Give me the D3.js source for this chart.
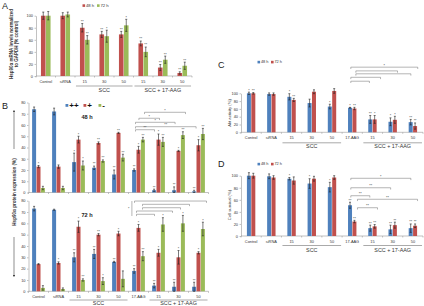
<!DOCTYPE html>
<html>
<head>
<meta charset="utf-8">
<script src="https://cdn.jsdelivr.net/npm/d3@7"></script>
<style>
  body { margin: 0; background: #fff; }
  svg { display: block; }
  text { font-family: "Liberation Sans", Arial, sans-serif; }
</style>
</head>
<body>
<script>
// ---- data ----
const catsA = ["Control", "siRNA", "15", "30", "50", "15", "30", "50"];
const a48 = [100, 100, 80, 69, 69, 54, 14, 5];
const a48Err = [6, 5, 7, 5, 5, 4, 5, 2];
const a48Sig = ["", "", "**", "**", "**", "**", "**", "**"];
const a72 = [100, 102, 60, 66, 84, 40, 27, 17];
const a72Err = [7, 4, 7, 10, 10, 8, 6, 6];
const a72Sig = ["", "", "**", "*", "*", "**", "**", "**"];

const catsB = ["Control", "siRNA", "15", "30", "50", "17-AAG", "15", "30", "50"];
const b48Blue = [74, 72, 27, 22, 16, 20, 2, 2, 1];
const b48BlueErr = [2, 3, 8, 1.5, 4, 1, 1, 3, 1];
const b48BlueSig = ["", "", "*", "**", "**", "**", "**", "**", "**"];
const b48Red = [23, 23, 47, 44, 53, 38, 47, 37, 42];
const b48RedErr = [1, 1.5, 3, 1, 0.5, 3, 5, 0.5, 5];
const b48RedSig = ["*", "", "*", "**", "**", "*", "*", "*", "*"];
const b48Green = [4, 4, 24, 28, 31, 47, 45, 51, 52];
const b48GreenErr = [1.5, 1.5, 4, 1, 3, 2, 4, 3, 5];
const b48GreenSig = ["", "", "*", "**", "**", "**", "**", "**", "**"];

const b72Blue = [73, 72, 30, 33, 26, 18, 5, 4, 4];
const b72BlueErr = [2, 0.5, 4, 4, 0.5, 2, 2, 4, 4];
const b72BlueSig = ["", "", "**", "**", "**", "**", "**", "**", "**"];
const b72Red = [24, 25, 57, 50, 51, 56, 34, 30, 34];
const b72RedErr = [0.5, 1, 5, 1, 2, 3, 3, 6, 1];
const b72RedSig = ["", "*", "*", "**", "*", "*", "*", "*", "*"];
const b72Green = [3, 2, 10, 9, 11, 31, 59, 60, 55];
const b72GreenErr = [2, 1, 1, 3, 7, 4, 6, 7, 6];
const b72GreenSig = ["", "", "**", "*", "", "**", "*", "*", "*"];

const cBlue = [100, 98, 91, 75, 66, 63, 33, 27, 26];
const cBlueErr = [3, 3, 8, 10, 6, 1, 10, 10, 7];
const cBlueSig = ["*", "", "*", "", "*", "*", "**", "*", "**"];
const cRed = [100, 98, 83, 104, 106, 61, 33, 32, 16];
const cRedErr = [2, 3, 4, 5, 6, 3, 10, 9, 8];
const cRedSig = ["**", "", "**", "", "", "**", "*", "*", "**"];

const dBlue = [100, 99, 95, 87, 81, 51, 13, 11, 13];
const dBlueErr = [5, 4, 2, 8, 8, 5, 5, 7, 7];
const dBlueSig = ["", "", "*", "*", "*", "**", "**", "**", "**"];
const dRed = [100, 97, 92, 95, 97, 24, 16, 18, 17];
const dRedErr = [4, 3, 6, 4, 3, 2, 3, 5, 3];
const dRedSig = ["", "", "", "", "", "**", "**", "**", "**"];

// significance brackets: [from index, to index, value level, label]
const bracketsB48 = [[5.3, 7.35, 71.3, "*"], [5.02, 6.05, 66, "*"], [4.85, 6.83, 62.4, "*"], [4.85, 7.88, 58.5, "**"], [4.85, 5.8, 55.8, "**"]];
const bracketsB72 = [[4.8, 8.4, 79.7, ""], [5.2, 7.55, 76.8, ""], [5.2, 7.1, 73.8, ""], [4.9, 6.7, 70.9, ""], [4.9, 5.8, 68, ""]];
const bracketsC = [[4.93, 8.24, 167, "*"], [5.18, 7.24, 157.5, ""], [5.18, 7.9, 150, ""], [4.93, 6.4, 141, ""], [4.93, 5.85, 131, ""]];
const bracketsD = [[4.93, 7.9, 95.7, "*"], [4.93, 6.9, 80, "**"], [4.93, 5.87, 66.8, "**"], [5.26, 8.23, 60.9, "**"], [5.26, 6.25, 46.9, "**"]];

const groupsA = [[2, 4, "SCC"], [5, 7, "SCC + 17-AAG"]];
const groupsB = [[2, 4, "SCC"], [6, 8, "SCC + 17-AAG"]];

const RED = "#c0504d", GREEN = "#9bbb59", BLUE = "#4f81bd";

const svg = d3.select("body").append("svg").attr("width", 424).attr("height", 306);

function panel(cfg) {
  const g = svg.append("g");
  const n = cfg.cats.length;
  const x = d3.scaleBand().domain(d3.range(n)).range([cfg.left, cfg.right]);
  const y = d3.scaleLinear().domain([0, cfg.max]).range([cfg.y0, cfg.yTop]);
  const pos = i => x(0) + x.bandwidth() / 2 + i * x.step();

  // y axis
  const ya = g.append("g")
    .attr("transform", `translate(${cfg.left},0)`)
    .call(d3.axisLeft(y).tickValues(cfg.ticks).tickSize(1.5).tickSizeOuter(0).tickPadding(1.5));
  ya.attr("font-family", "Liberation Sans, Arial, sans-serif");
  ya.select(".domain").attr("stroke", "#999").attr("stroke-width", 0.6);
  ya.selectAll(".tick line").attr("stroke", "#999").attr("stroke-width", 0.6);
  ya.selectAll(".tick text").attr("font-size", 3.9).attr("fill", "#333");

  // x axis
  g.append("line")
    .attr("x1", cfg.left).attr("x2", cfg.right)
    .attr("y1", cfg.y0).attr("y2", cfg.y0)
    .attr("stroke", "#999").attr("stroke-width", 0.6);
  g.selectAll(".xt").data(d3.range(n + 1)).join("line")
    .attr("x1", i => cfg.left + i * x.step()).attr("x2", i => cfg.left + i * x.step())
    .attr("y1", cfg.y0).attr("y2", cfg.y0 + 1.5)
    .attr("stroke", "#999").attr("stroke-width", 0.6);

  if (cfg.showLabels) {
    g.selectAll(".xl").data(d3.range(n)).join("text")
      .attr("x", i => pos(i)).attr("y", cfg.y0 + cfg.labelOff)
      .attr("text-anchor", "middle").attr("font-size", 3.9).attr("fill", "#333")
      .text(i => cfg.cats[i]);
    cfg.groups.forEach(([a, b, lab]) => {
      g.append("line")
        .attr("x1", pos(a) - 0.45 * x.step()).attr("x2", pos(b) + 0.45 * x.step())
        .attr("y1", cfg.y0 + cfg.lineOff).attr("y2", cfg.y0 + cfg.lineOff)
        .attr("stroke", "#555").attr("stroke-width", 0.5);
      g.append("text")
        .attr("x", (pos(a) + pos(b)) / 2).attr("y", cfg.y0 + cfg.groupOff)
        .attr("text-anchor", "middle").attr("font-size", 5.4).attr("fill", "#333")
        .text(lab);
    });
  }

  // bars
  const m = cfg.series.length;
  cfg.series.forEach((s, k) => {
    const off = (k - (m - 1) / 2) * cfg.barW;
    const idx = d3.range(n);
    g.selectAll(null).data(idx).join("rect")
      .attr("x", i => pos(i) + off - cfg.barW / 2 + 0.2)
      .attr("width", cfg.barW - 0.4)
      .attr("y", i => y(s.values[i]))
      .attr("height", i => cfg.y0 - y(s.values[i]))
      .attr("fill", s.color);
    // error bars
    idx.forEach(i => {
      const cx = pos(i) + off;
      const lo = y(Math.max(0, s.values[i] - s.err[i]));
      const hi = y(s.values[i] + s.err[i]);
      g.append("path")
        .attr("d", `M${cx},${lo}V${hi}M${cx - 1},${hi}H${cx + 1}M${cx - 1},${lo}H${cx + 1}`)
        .attr("stroke", "#222").attr("stroke-width", 0.6).attr("fill", "none");
      if (s.sig[i]) {
        g.append("text")
          .attr("x", cx).attr("y", hi - 0.6)
          .attr("text-anchor", "middle").attr("font-size", 3.7).attr("fill", "#333")
          .text(s.sig[i]);
      }
    });
  });

  // brackets
  (cfg.brackets || []).forEach(([a, b, v, lab]) => {
    const x1 = pos(a), x2 = pos(b), yy = y(v);
    g.append("path")
      .attr("d", `M${x1},${yy + 1.8}V${yy}H${x2}V${yy + 1.8}`)
      .attr("stroke", "#777").attr("stroke-width", 0.55).attr("fill", "none");
    if (lab) {
      g.append("text")
        .attr("x", (x1 + x2) / 2).attr("y", yy - 0.6)
        .attr("text-anchor", "middle").attr("font-size", 3.7).attr("fill", "#333")
        .text(lab);
    }
  });
  return { g, x, y, pos };
}

function legend(items, x0, yy, gap, fs) {
  let cx = x0;
  items.forEach(([color, label]) => {
    svg.append("rect").attr("x", cx).attr("y", yy - 2.2).attr("width", 2.6).attr("height", 2.6).attr("fill", color);
    svg.append("text").attr("x", cx + 3.4).attr("y", yy + 0.4).attr("font-size", fs).attr("fill", "#333").text(label);
    cx += gap;
  });
}

function letter(t, xx, yy) {
  svg.append("text").attr("x", xx).attr("y", yy).attr("font-size", 9).attr("fill", "#222").text(t);
}

// ---- Panel A ----
panel({
  cats: catsA, left: 36, right: 192, y0: 76, yTop: 15.7, max: 100,
  ticks: [0, 20, 40, 60, 80, 100], barW: 5, showLabels: true,
  labelOff: 6.5, lineOff: 10, groupOff: 16, groups: groupsA,
  series: [
    { values: a48, err: a48Err, sig: a48Sig, color: RED },
    { values: a72, err: a72Err, sig: a72Sig, color: GREEN }
  ]
});
letter("A", 2, 9);
legend([[RED, "48 h"], [GREEN, "72 h"]], 82.5, 6.5, 14.5, 4.3);
svg.append("text")
  .attr("transform", "translate(13,44) rotate(-90)")
  .attr("text-anchor", "middle").attr("font-size", 4.5).attr("font-weight", "bold").attr("fill", "#333")
  .selectAll("tspan").data(["Hsp90α mRNA levels normalized", "to GAPDH (% control)"]).join("tspan")
  .attr("x", 0).attr("dy", (d, i) => i === 0 ? 0 : 5.4).text(d => d);

// ---- Panel B ----
panel({
  cats: catsB, left: 28.5, right: 208.5, y0: 192.5, yTop: 102.5, max: 80,
  ticks: d3.range(0, 81, 10), barW: 4.4, showLabels: false,
  brackets: bracketsB48,
  series: [
    { values: b48Blue, err: b48BlueErr, sig: b48BlueSig, color: BLUE },
    { values: b48Red, err: b48RedErr, sig: b48RedSig, color: RED },
    { values: b48Green, err: b48GreenErr, sig: b48GreenSig, color: GREEN }
  ]
});
const pB72 = panel({
  cats: catsB, left: 28.5, right: 208.5, y0: 291.3, yTop: 200.7, max: 80,
  ticks: d3.range(0, 81, 10), barW: 4.4, showLabels: true,
  labelOff: 6.5, lineOff: 8.7, groupOff: 13.5, groups: groupsB,
  brackets: bracketsB72,
  series: [
    { values: b72Blue, err: b72BlueErr, sig: b72BlueSig, color: BLUE },
    { values: b72Red, err: b72RedErr, sig: b72RedSig, color: RED },
    { values: b72Green, err: b72GreenErr, sig: b72GreenSig, color: GREEN }
  ]
});
// brace for the 72 h brackets
const braceX = pB72.pos(4.67);
pB72.g.append("line").attr("x1", braceX).attr("x2", braceX)
  .attr("y1", pB72.y(79.7)).attr("y2", pB72.y(66.5))
  .attr("stroke", "#777").attr("stroke-width", 0.55);
pB72.g.append("text").attr("x", braceX - 2.5).attr("y", pB72.y(72))
  .attr("text-anchor", "end").attr("font-size", 3.7).attr("fill", "#333").text("*");

letter("B", 2, 109);
// B legend
[[BLUE, "++", 65.5], [RED, "+", 83.5], [GREEN, "-", 98.5]].forEach(([c, t, xx]) => {
  svg.append("rect").attr("x", xx).attr("y", 104).attr("width", 2.8).attr("height", 2.8).attr("fill", c);
  svg.append("text").attr("x", xx + 3.8).attr("y", 108.2).attr("font-size", 8).attr("font-weight", "bold").attr("fill", "#111").text(t);
});
svg.append("text").attr("x", 87).attr("y", 119).attr("text-anchor", "middle").attr("font-size", 5.6).attr("font-weight", "bold").attr("fill", "#222").text("48 h");
svg.append("text").attr("x", 87).attr("y", 217).attr("text-anchor", "middle").attr("font-size", 5.6).attr("font-weight", "bold").attr("fill", "#222").text("72 h");
svg.append("text")
  .attr("transform", "translate(15.5,192) rotate(-90)")
  .attr("text-anchor", "middle").attr("font-size", 4.6).attr("font-weight", "bold").attr("fill", "#333")
  .text("Hsp90α protein expression (%)");
svg.append("defs").append("marker").attr("id", "ah").attr("viewBox", "0 0 6 6")
  .attr("refX", 3).attr("refY", 3).attr("markerWidth", 4).attr("markerHeight", 4).attr("orient", "auto")
  .append("path").attr("d", "M0,0L6,3L0,6Z").attr("fill", "#444");
svg.append("line").attr("x1", 14).attr("x2", 14).attr("y1", 149).attr("y2", 111)
  .attr("stroke", "#444").attr("stroke-width", 0.6).attr("marker-end", "url(#ah)");
svg.append("line").attr("x1", 14).attr("x2", 14).attr("y1", 237).attr("y2", 276)
  .attr("stroke", "#444").attr("stroke-width", 0.6).attr("marker-end", "url(#ah)");

// ---- Panel C ----
panel({
  cats: catsB, left: 241, right: 423, y0: 132.3, yTop: 93.3, max: 100,
  ticks: [0, 20, 40, 60, 80, 100], barW: 4.4, showLabels: true,
  labelOff: 6.8, lineOff: 10.5, groupOff: 16, groups: groupsB,
  brackets: bracketsC,
  series: [
    { values: cBlue, err: cBlueErr, sig: cBlueSig, color: BLUE },
    { values: cRed, err: cRedErr, sig: cRedSig, color: RED }
  ]
});
letter("C", 218, 68);
legend([[BLUE, "48 h"], [RED, "72 h"]], 257.5, 63, 13.5, 3.9);
svg.append("text")
  .attr("transform", "translate(231,113) rotate(-90)")
  .attr("text-anchor", "middle").attr("font-size", 4.2).attr("fill", "#333")
  .text("Akt activity (%)");

// ---- Panel D ----
panel({
  cats: catsB, left: 241, right: 423, y0: 236, yTop: 175.7, max: 100,
  ticks: [0, 20, 40, 60, 80, 100], barW: 4.4, showLabels: true,
  labelOff: 6.5, lineOff: 9.5, groupOff: 15.5, groups: groupsB,
  brackets: bracketsD,
  series: [
    { values: dBlue, err: dBlueErr, sig: dBlueSig, color: BLUE },
    { values: dRed, err: dRedErr, sig: dRedSig, color: RED }
  ]
});
letter("D", 218, 167);
legend([[BLUE, "48 h"], [RED, "72 h"]], 257.5, 165, 13.5, 3.9);
svg.append("text")
  .attr("transform", "translate(231,205) rotate(-90)")
  .attr("text-anchor", "middle").attr("font-size", 4.2).attr("fill", "#333")
  .text("Cell survival (%)");
</script>
</body>
</html>
